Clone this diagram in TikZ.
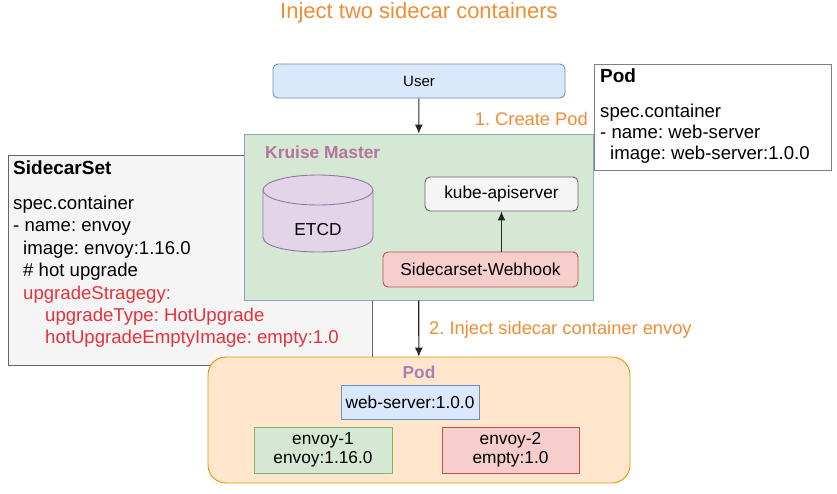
\documentclass[tikz,border=0pt]{standalone}
\usepackage{fontspec}
\setmainfont{Liberation Sans}
\usetikzlibrary{arrows.meta,positioning}
\frenchspacing
\definecolor{noteorange}{RGB}{240,140,52}
\definecolor{kruisepurple}{RGB}{181,115,157}
\definecolor{podpurple}{RGB}{166,128,184}
\definecolor{codered}{RGB}{230,50,60}
\definecolor{bluefill}{RGB}{218,232,252}
\definecolor{blueline}{RGB}{108,142,191}
\definecolor{greenfill}{RGB}{213,232,212}
\definecolor{greenline}{RGB}{130,179,102}
\definecolor{masterline}{RGB}{140,165,190}
\definecolor{redfill}{RGB}{248,206,204}
\definecolor{redline}{RGB}{184,84,80}
\definecolor{purplefill}{RGB}{225,213,231}
\definecolor{purpleline}{RGB}{150,115,166}
\definecolor{greyfill}{RGB}{245,245,245}
\definecolor{greyline}{RGB}{102,102,102}
\definecolor{orangefill}{RGB}{255,230,204}
\definecolor{orangeline}{RGB}{215,155,0}
\begin{document}
\begin{tikzpicture}[x=1pt,y=-1pt]
				\tikzstyle{flat node}=[rectangle,inner sep=0,line width=0.9pt,font=\fontsize{17.3}{19}\selectfont]
				\tikzstyle{code text}=[inner sep=0,anchor=base west,font=\fontsize{18.6}{22}\selectfont]
				\tikzset{
					blue node/.style={flat node,draw=blueline,fill=bluefill},
					green node/.style={flat node,draw=greenline,fill=greenfill},
					red node/.style={flat node,draw=redline,fill=redfill},
					grey node/.style={flat node,draw=greyline,fill=greyfill},
					note text/.style={inner sep=0,text=noteorange,font=\fontsize{18.3}{20}\selectfont},
					flow arrow/.style={draw=black!85,line width=1.1pt,-{Latex[length=9pt,width=8pt]}}
				}
				\useasboundingbox (0,0) rectangle (837,493);
				% title
				\node[note text,font=\fontsize{22}{24}\selectfont] (title) at (419,13) {Inject two sidecar containers};
				% sidecarset spec
				\node[grey node,minimum width=364,minimum height=210] (sidecarset) at (190,260) {};
				\node[code text,font=\fontsize{19}{22}\selectfont\bfseries] (sc-0) at (13,174.5) {SidecarSet};
				\node[code text] (sc-1) at (13,209.5) {spec.container};
				\node[code text] (sc-2) at (13,231.9) {- name: envoy};
				\node[code text] (sc-3) at (23,254.3) {image: envoy:1.16.0};
				\node[code text] (sc-4) at (23,276.7) {\# hot upgrade};
				\node[code text,text=codered] (sc-5) at (23,299.1) {upgradeStragegy:};
				\node[code text,text=codered] (sc-6) at (45,321.5) {upgradeType: HotUpgrade};
				\node[code text,text=codered] (sc-7) at (45,343.9) {hotUpgradeEmptyImage: empty:1.0};
				% user
				\node[blue node,rounded corners=5,minimum width=292,minimum height=34,font=\fontsize{15}{17}\selectfont] (user) at (419,81) {User};
				% kruise master
				\node[flat node,draw=masterline,fill=greenfill,minimum width=349,minimum height=166] (master) at (418.5,217) {};
				\node[code text,text=kruisepurple,font=\fontsize{17.4}{20}\selectfont\bfseries] (master-label) at (265,158) {Kruise Master};
				\filldraw[draw=purpleline,fill=purplefill,line width=0.9pt]
					(263,190) -- (263,237) .. controls (263,257) and (373,257) .. (373,237) -- (373,190);
				\filldraw[draw=purpleline,fill=purplefill,line width=0.9pt] (318,190) ellipse [x radius=55,y radius=15];
				\node[flat node] (etcd) at (318,230) {ETCD};
				\node[grey node,rounded corners=5,minimum width=153,minimum height=34] (apiserver) at (501.5,194) {kube-apiserver};
				\node[red node,rounded corners=5,minimum width=195,minimum height=35] (webhook) at (480.5,269.5) {Sidecarset-Webhook};
				% pod spec
				\node[flat node,draw=black!50,fill=white,minimum width=237,minimum height=106] (podspec) at (712.5,117) {};
				\node[code text,font=\fontsize{19}{22}\selectfont\bfseries] (ps-0) at (600,82) {Pod};
				\node[code text] (ps-1) at (600,117.5) {spec.container};
				\node[code text] (ps-2) at (600,138.5) {- name: web-server};
				\node[code text] (ps-3) at (610,159.5) {image: web-server:1.0.0};
				% injected pod
				\node[flat node,draw=orangeline,fill=orangefill,rounded corners=18,minimum width=422,minimum height=126] (pod) at (419,420) {};
				\node[flat node,text=podpurple,font=\fontsize{17.3}{19}\selectfont\bfseries] (pod-label) at (419,372) {Pod};
				\node[blue node,minimum width=138,minimum height=34] (webserver) at (410,402) {web-server:1.0.0};
				\node[green node,minimum width=138,minimum height=46,align=center] (envoy1) at (323,450) {envoy-1\\envoy:1.16.0};
				\node[red node,minimum width=137,minimum height=46,align=center] (envoy2) at (510.5,450) {envoy-2\\empty:1.0};
				% connectors
				\draw[flow arrow] (user) -- (master);
				\node[note text,anchor=east] (create) at (588,119) {1. Create Pod};
				\draw[flow arrow] (webhook.north -| apiserver) -- (apiserver.south);
				\draw[flow arrow] (master) -- (pod);
				\node[note text,anchor=west] (inject) at (429,330) {2. Inject sidecar container envoy};
			\end{tikzpicture}
\end{document}
